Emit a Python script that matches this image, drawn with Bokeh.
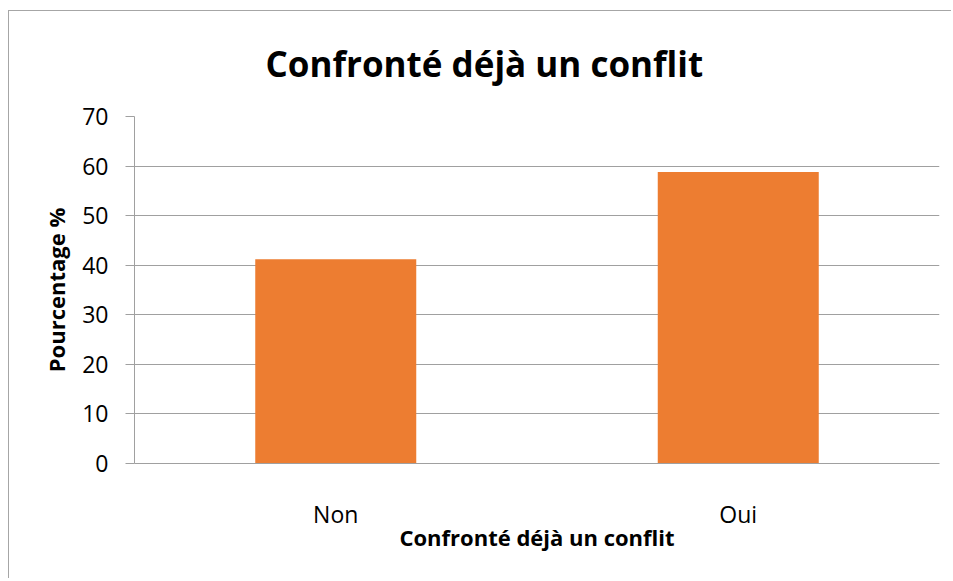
from bokeh.plotting import figure
from bokeh.models import ColumnDataSource, FixedTicker, Range1d, Title
from bokeh.embed import file_html
from bokeh.resources import INLINE

# ---- data ----
categories = ["Non", "Oui"]
percentages = [41.2, 58.8]
y_ticks = [0, 10, 20, 30, 40, 50, 60, 70]
title_text = "Confronté déjà un conflit"
x_title = "Confronté déjà un conflit"
y_title = "Pourcentage %"

FONT = "Open Sans"
GRID = "#a0a0a0"

src = ColumnDataSource(dict(cat=categories, val=percentages))

p = figure(
    width=943, height=568,
    x_range=categories, y_range=Range1d(0, 70),
    output_backend="svg", toolbar_location=None,
    min_border_left=125, min_border_right=13, min_border_top=105, min_border_bottom=116,
    styles={"border-top": "1px solid #a6a6a6", "border-left": "1px solid #a6a6a6",
            "margin-top": "10px", "margin-left": "8px"},
)
p.outline_line_color = None
p.background_fill_color = "white"
p.border_fill_color = "white"

p.vbar(x="cat", top="val", width=0.4, source=src, color="#ED7D31", line_color=None)

# title
p.add_layout(Title(text=title_text, align="left", offset=131, standoff=56,
                   vertical_align="top",
                   text_font=FONT, text_font_style="bold", text_font_size="35px",
                   text_color="black"), "above")

# y axis
p.yaxis.ticker = FixedTicker(ticks=y_ticks)
p.yaxis.axis_line_color = GRID
p.yaxis.major_tick_line_color = GRID
p.yaxis.major_tick_out = 9
p.yaxis.major_tick_in = 0
p.yaxis.minor_tick_line_color = None
p.yaxis.major_label_text_font = FONT
p.yaxis.major_label_text_font_size = "23px"
p.yaxis.major_label_text_color = "black"
p.yaxis.major_label_standoff = 17
p.yaxis.axis_label = y_title
p.yaxis.axis_label_text_font = FONT
p.yaxis.axis_label_text_font_style = "bold"
p.yaxis.axis_label_text_font_size = "22px"
p.yaxis.axis_label_text_color = "black"
p.yaxis.axis_label_standoff = 8

# x axis
p.xaxis.axis_line_color = GRID
p.xaxis.major_tick_line_color = None
p.xaxis.minor_tick_line_color = None
p.xaxis.major_label_text_font = FONT
p.xaxis.major_label_text_color = "black"
p.xaxis.major_label_text_font_size = "23px"
p.xaxis.major_label_standoff = 28
p.xaxis.axis_label = x_title
p.xaxis.axis_label_text_font = FONT
p.xaxis.axis_label_text_font_style = "bold"
p.xaxis.axis_label_text_font_size = "22px"
p.xaxis.axis_label_text_color = "black"
p.xaxis.axis_label_standoff = -11

p.xgrid.grid_line_color = None
p.ygrid.grid_line_color = GRID
p.ygrid.grid_line_width = 1

open("out.html", "w").write(file_html(p, INLINE))
